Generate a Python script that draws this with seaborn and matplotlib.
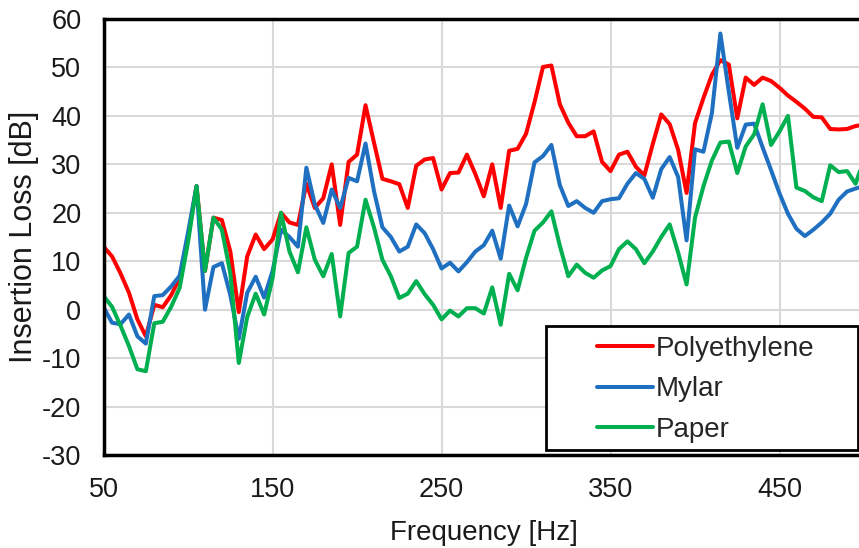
import numpy as np
import pandas as pd
import matplotlib.pyplot as plt
import seaborn as sns
from matplotlib.patches import Rectangle

# frequency axis, 5 Hz steps
freq = np.arange(50, 505, 5)

polyethylene = [13, 11, 7.5, 3.5, -2, -5.5, 1, 0.5, 3, 6.5,
                15, 25.5, 8, 19, 18.5, 12, -0.5, 11, 15.5, 12.5,
                14.5, 20, 18, 17.5, 26, 21, 23, 30, 17.5, 30.5,
                32, 42.2, 34.5, 27, 26.5, 25.9, 21, 29.7, 31, 31.3,
                24.8, 28.2, 28.3, 32, 28, 23.4, 30, 21, 32.8, 33.2,
                36.3, 42.8, 50.1, 50.4, 42.4, 38.6, 35.8, 35.8, 36.8, 30.5,
                28.6, 32, 32.6, 29.5, 27.7, 34.2, 40.3, 38.3, 33, 24.1,
                38.5, 43.7, 48.5, 51.5, 50.6, 39.5, 47.9, 46.4, 47.9, 47.2,
                45.8, 44.2, 42.9, 41.5, 39.8, 39.7, 37.3, 37.2, 37.3, 37.9,
                38.2]

mylar = [0.5, -2.7, -3, -1, -5.5, -7, 2.8, 3, 4.8, 7,
         16, 25.5, 0, 8.8, 9.6, 3, -6, 3.5, 6.8, 2.5,
         8, 16.5, 15, 13, 29.3, 21.7, 17.9, 24.8, 21, 27.2,
         26.5, 34.3, 24.5, 17, 15, 12, 13, 17.6, 15.8, 12.5,
         8.5, 9.7, 7.9, 9.8, 12, 13.3, 16.3, 10.5, 21.5, 17.2,
         21.8, 30.4, 31.7, 34, 25.7, 21.4, 22.4, 21, 20, 22.4,
         22.8, 23, 26, 28.2, 27, 23.1, 29, 31.5, 27.4, 14.3,
         33.1, 32.6, 40.6, 57, 45, 33.4, 38.2, 38.4, 33.5, 28.8,
         24, 19.8, 16.7, 15.2, 16.5, 18, 19.8, 22.7, 24.4, 25,
         25.5]

paper = [2.8, 0.6, -3.3, -7.5, -12.3, -12.7, -2.8, -2.5, 0.6, 4.5,
         14, 25.5, 8, 19, 16.5, 7.5, -11, -1.5, 3.3, -1,
         6.5, 20, 12, 7.7, 17, 10.3, 6.9, 11.5, -1.4, 11.7,
         13, 22.7, 17, 10.3, 6.9, 2.4, 3.3, 5.9, 3.2, 1,
         -2, -0.2, -1.4, 0.3, 0.3, -0.8, 4.6, -3.1, 7.4, 4,
         10.7, 16.3, 18, 20.3, 13.2, 6.9, 9.3, 7.6, 6.6, 8.1,
         9, 12.5, 14.1, 12.5, 9.6, 12, 15, 17.6, 11.8, 5.2,
         19, 25.5, 30.8, 34.5, 34.7, 28.2, 33.7, 36.2, 42.4, 34,
         36.8, 40, 25.2, 24.5, 23.2, 22.4, 29.8, 28.4, 28.6, 26,
         31]

materials = ['Polyethylene', 'Mylar', 'Paper']
colors = {'Polyethylene': '#FF0000', 'Mylar': '#1F70C1', 'Paper': '#00B050'}

df = pd.DataFrame({
    'Frequency': np.tile(freq, 3),
    'Insertion Loss': polyethylene + mylar + paper,
    'Material': np.repeat(materials, len(freq)),
})

sns.set_theme(style='white')
plt.rcParams['font.family'] = ['Liberation Sans', 'DejaVu Sans']
plt.rcParams['axes.unicode_minus'] = False

W, H = 859, 548
fig = plt.figure(figsize=(W / 100, H / 100), dpi=100)
# plot area runs a little past the right edge, as in the original crop
ax = fig.add_axes([103.6 / W, 1 - 455 / H, (864 - 103.6) / W, 436 / H])

sns.lineplot(data=df, x='Frequency', y='Insertion Loss', hue='Material',
             hue_order=materials, palette=colors, linewidth=2.9, ax=ax)

ax.set_xlim(50, 500)
ax.set_ylim(-30, 60)
ax.set_xticks([50, 150, 250, 350, 450])
ax.set_yticks(range(-30, 70, 10))
ax.grid(True, color='#d9d9d9', linewidth=1.5)
ax.set_axisbelow(True)
for s in ax.spines.values():
    s.set_color('black')
    s.set_linewidth(2.5)
ax.tick_params(length=0, labelsize=19.5, colors='#1a1a1a')
ax.tick_params(axis='x', pad=16)
ax.tick_params(axis='y', pad=16)
ax.set_xlabel('Frequency [Hz]', fontsize=20, labelpad=12, color='#1a1a1a')
ax.set_ylabel('Insertion Loss [dB]', fontsize=22, labelpad=2, color='#1a1a1a')

handles, labels = ax.get_legend_handles_labels()
ax.get_legend().remove()
fig.patches.append(Rectangle((546 / W, 1 - 450 / H), (858 - 546) / W, 124 / H,
                             transform=fig.transFigure, facecolor='white',
                             edgecolor='black', linewidth=2, zorder=3))
fig.legend(handles, labels, loc='upper left', bbox_to_anchor=(597 / W, 1 - 336 / H),
           bbox_transform=fig.transFigure, frameon=False, fontsize=20,
           handlelength=2.0, handletextpad=0.1, labelspacing=0.52, borderpad=0,
           borderaxespad=0)

fig.savefig('out.png', dpi=100)
